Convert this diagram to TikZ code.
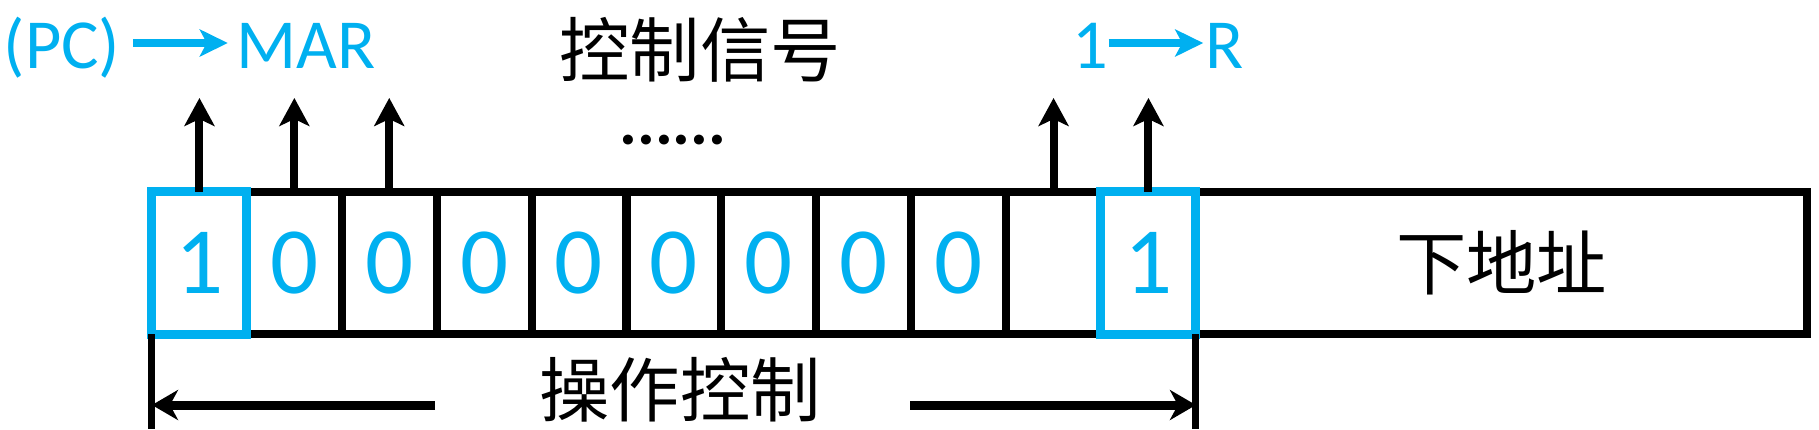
\documentclass[tikz,border=0pt]{standalone}
\usepackage{fontspec}
\setmainfont{Carlito}
\newfontfamily\cjk{Noto Sans CJK SC}
\usetikzlibrary{arrows.meta}
\definecolor{sigblue}{HTML}{00B0F0}

\tikzset{
  cell/.style={draw, line width=0.08cm, minimum width=0.949cm, minimum height=1.42cm,
    inner sep=0pt, outer sep=0pt, text=sigblue, font=\fontsize{27}{30}\selectfont},
  bluebox/.style={draw=sigblue, line width=0.09cm},
  sig/.style={line width=0.08cm, -{Stealth[length=0.28cm, width=0.30cm, inset=0.07cm]}},
  blab/.style={text=sigblue, font=\fontsize{20}{24}\selectfont, inner ysep=0pt,
    text height=0.5cm, text depth=0.0cm},
  blarrow/.style={sigblue, line width=0.08cm, -{Stealth[length=0.28cm, width=0.27cm, inset=0.07cm]}},
  oparrow/.style={line width=0.09cm, -{Stealth[length=0.26cm, width=0.30cm, inset=0.08cm]}},
  cnlab/.style={font=\cjk\fontsize{20}{24}\selectfont, inner sep=0pt}
}

\begin{document}
\begin{tikzpicture}[x=0.01cm, y=-0.01cm]

    \useasboundingbox (0,0) rectangle (1819,429);

    % Define the bit cells of the control field
    \foreach \i/\bit in {1/1,2/0,3/0,4/0,5/0,6/0,7/0,8/0,9/0,10/{},11/1}
        \node[cell] (c\i) at ({152+94.9*(\i-0.5)}, 263) {\bit};

    % Next address field
    \node[cell, minimum width=6.11cm, text=black, font=\cjk\fontsize{20}{24}\selectfont]
        (addr) at (1501.5, 263) {下地址};

    % Highlight the two set bits
    \draw[bluebox] (c1.south west) rectangle (c1.north east);
    \draw[bluebox] (c11.south west) rectangle (c11.north east);

    % Control signals going up
    \foreach \i in {1,2,3,10,11}
        \draw[sig] (c\i.north) -- ++(0,-94);

    \node[cnlab] (sigtext) at (700, 50) {控制信号};
    \node[font=\fontsize{19}{20}\selectfont\bfseries, inner sep=0pt, anchor=base] (dots) at (673, 144) {......};

    % Blue labels for the micro-operations
    \node[blab, inner xsep=0.12cm] (pc) at (62, 43) {(PC)};
    \node[blab, inner xsep=0.08cm] (mar) at (306, 43) {MAR};
    \draw[blarrow] (pc) -- (mar);

    \node[blab, inner xsep=0.0cm] (one) at (1090, 43) {1};
    \node[blab, inner xsep=0.02cm] (reg) at (1225, 43) {R};
    \draw[blarrow] (one) -- (reg);

    % Span of the operation control field
    \draw[line width=0.07cm] (c1.south west) -- ++(0,95);
    \draw[line width=0.07cm] (c11.south east) -- ++(0,95);
    \coordinate (la) at (435, 405);
    \coordinate (ra) at (910, 405);
    \draw[oparrow] (la) -- (c1.south west |- la);
    \draw[oparrow] (ra) -- (c11.south east |- ra);
    \node[cnlab] (optext) at (680, 390) {操作控制};

\end{tikzpicture}
\end{document}
